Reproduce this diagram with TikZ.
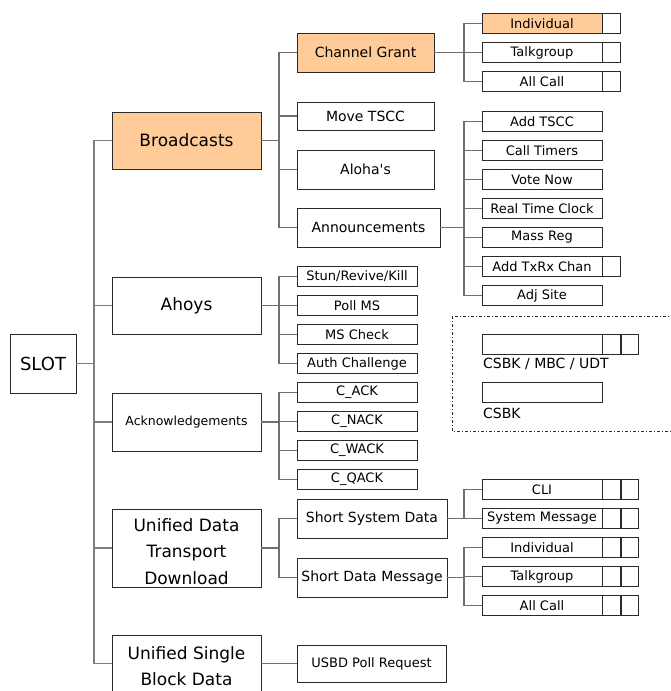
\documentclass[tikz,border=0pt]{standalone}
\usepackage{fontspec}
\setmainfont{DejaVu Sans}
\definecolor{orangefill}{HTML}{FFCC99}
\definecolor{lineg}{HTML}{707070}
\definecolor{boxd}{HTML}{2A2A2A}
\tikzset{
  box/.style={draw=boxd, line width=0.9pt, fill=white, inner sep=0pt, rectangle},
  hi/.style={fill=orangefill},
  bigbox/.style={box, minimum width=149pt, font=\fontsize{17}{26.5}\selectfont, align=center},
  midbox/.style={box, minimum width=137pt, minimum height=39pt, font=\fontsize{14}{16}\selectfont},
  smallbox/.style={box, minimum width=120pt, minimum height=19.5pt, font=\fontsize{13}{15}\selectfont},
  cell/.style={box, minimum width=17.5pt, minimum height=19.5pt, anchor=west},
  conn/.style={draw=lineg, line width=1.4pt},
  trunk/.style={draw=lineg!90, line width=1.9pt},
  legendlbl/.style={anchor=base west, inner sep=0pt, font=\fontsize{14}{16}\selectfont}
}
\begin{document}
\begin{tikzpicture}[x=1pt, y=-1pt]
\useasboundingbox (0,0) rectangle (670,691);

% level 0 and 1
\node[box, minimum width=66pt, minimum height=59pt, font=\fontsize{18}{20}\selectfont] (slot) at (43,363.5) {SLOT};
\node[bigbox, hi, minimum height=57pt] (bc) at (186.5,140.5) {Broadcasts};
\node[bigbox, minimum height=57pt] (ahoys) at (186.5,305.5) {Ahoys};
\node[bigbox, minimum height=58pt, font=\fontsize{12.5}{14}\selectfont] (ack) at (186.5,422) {Acknowledgements};
\node[bigbox, minimum height=78pt, font=\fontsize{17}{26.5}\selectfont] (udt) at (186.5,548) {\rule{0pt}{20pt}Unified Data\\Transport\\Download};
\node[bigbox, minimum height=57pt, font=\fontsize{17}{26.5}\selectfont] (usbd) at (186.5,663.5) {\rule{0pt}{18pt}Unified Single\\Block Data};

% level 2 - broadcasts
\node[midbox, hi] (cg) at (365.5,52.5) {Channel Grant};
\node[midbox, minimum height=28pt] (mt) at (365.5,116) {Move TSCC};
\node[midbox] (al) at (365.5,169.5) {Aloha\textquotesingle s};
\node[midbox, minimum width=143pt] (an) at (368.5,227.5) {Announcements};

% level 2 - ahoys / acks
\node[smallbox] (stun) at (357,276.5) {Stun/Revive/Kill};
\node[smallbox] (poll) at (357,305.5) {Poll MS};
\node[smallbox] (msc) at (357,334.5) {MS Check};
\node[smallbox] (auth) at (357,363.5) {Auth Challenge};
\node[smallbox] (cack) at (357,392.5) {C\_ACK};
\node[smallbox] (cnack) at (357,421.5) {C\_NACK};
\node[smallbox] (cwack) at (357,450.5) {C\_WACK};
\node[smallbox] (cqack) at (357,479.5) {C\_QACK};

% level 2 - udt / usbd
\node[midbox, minimum width=150pt] (ssd) at (372,518.5) {Short System Data};
\node[midbox, minimum width=150pt] (sdm) at (372,577.5) {Short Data Message};
\node[midbox, minimum width=149pt, minimum height=37pt, font=\fontsize{13}{15}\selectfont] (usbdp) at (371.5,663.5) {USBD Poll Request};

% level 3 - channel grant
\node[smallbox, hi] (ind) at (542,23.5) {Individual};
\node[cell] (indc) at (ind.east) {};
\node[smallbox] (tg) at (542,52.5) {Talkgroup};
\node[cell] (tgc) at (tg.east) {};
\node[smallbox] (ac) at (542,81.5) {All Call};
\node[cell] (acc) at (ac.east) {};

% level 3 - announcements
\node[smallbox] (addt) at (542,121.5) {Add TSCC};
\node[smallbox] (ct) at (542,150.5) {Call Timers};
\node[smallbox] (vn) at (542,179.5) {Vote Now};
\node[smallbox] (rtc) at (542,208.5) {Real Time Clock};
\node[smallbox] (mr) at (542,237.5) {Mass Reg};
\node[smallbox] (atx) at (542,266.5) {Add TxRx Chan};
\node[cell] (atxc) at (atx.east) {};
\node[smallbox] (adj) at (542,295.5) {Adj Site};

% level 3 - short system data
\node[smallbox] (cli) at (542,489.5) {CLI};
\node[cell] (clic1) at (cli.east) {};
\node[cell] (clic2) at (clic1.east) {};
\node[smallbox] (sm) at (542,518.5) {System Message};
\node[cell] (smc1) at (sm.east) {};
\node[cell] (smc2) at (smc1.east) {};

% level 3 - short data message
\node[smallbox] (ind2) at (542,547.5) {Individual};
\node[cell] (ind2c1) at (ind2.east) {};
\node[cell] (ind2c2) at (ind2c1.east) {};
\node[smallbox] (tg2) at (542,576.5) {Talkgroup};
\node[cell] (tg2c1) at (tg2.east) {};
\node[cell] (tg2c2) at (tg2c1.east) {};
\node[smallbox] (ac2) at (542,605.5) {All Call};
\node[cell] (ac2c1) at (ac2.east) {};
\node[cell] (ac2c2) at (ac2c1.east) {};

% legend
\draw[draw=boxd, line width=0.9pt, dash pattern=on 3pt off 2pt on 1pt off 2pt] (452,316) rectangle (676,431);
\node[smallbox, minimum height=20pt] (lg1) at (542,344) {};
\node[cell, minimum height=20pt] (lg1c1) at (lg1.east) {};
\node[cell, minimum height=20pt] (lg1c2) at (lg1c1.east) {};
\node[legendlbl] (lgl1) at (483,368) {CSBK / MBC / UDT};
\node[smallbox] (lg2) at (542,392.5) {};
\node[legendlbl] (lgl2) at (483,418) {CSBK};

% connectors
\coordinate (t0) at (94,363.5);
\draw[trunk] (slot.east) -- (t0);
\foreach \n in {bc,ahoys,ack,udt,usbd} \draw[trunk] (t0) |- (\n.west);

\coordinate (b1) at (279,140.5);
\draw[conn] (bc.east) -- (b1);
\foreach \n in {cg,mt,al,an} \draw[conn] (b1) |- (\n.west);

\coordinate (b2) at (464,52.5);
\draw[conn] (cg.east) -- (b2);
\foreach \n in {ind,tg,ac} \draw[conn] (b2) |- (\n.west);

\coordinate (b3) at (464,227.5);
\draw[conn] (an.east) -- (b3);
\foreach \n in {addt,ct,vn,rtc,mr,atx,adj} \draw[conn] (b3) |- (\n.west);

\coordinate (b4) at (279,305.5);
\draw[conn] (ahoys.east) -- (b4);
\foreach \n in {stun,poll,msc,auth} \draw[conn] (b4) |- (\n.west);

\coordinate (b5) at (279,422);
\draw[conn] (ack.east) -- (b5);
\foreach \n in {cack,cnack,cwack,cqack} \draw[conn] (b5) |- (\n.west);

\coordinate (b6) at (279,548);
\draw[conn] (udt.east) -- (b6);
\foreach \n in {ssd,sdm} \draw[conn] (b6) |- (\n.west);

\coordinate (b7) at (464,518.5);
\draw[conn] (ssd.east) -- (b7);
\foreach \n in {cli,sm} \draw[conn] (b7) |- (\n.west);

\coordinate (b8) at (464,577.5);
\draw[conn] (sdm.east) -- (b8);
\foreach \n in {ind2,tg2,ac2} \draw[conn] (b8) |- (\n.west);

\draw[conn] (usbd.east) -- (usbdp.west);
\end{tikzpicture}
\end{document}
